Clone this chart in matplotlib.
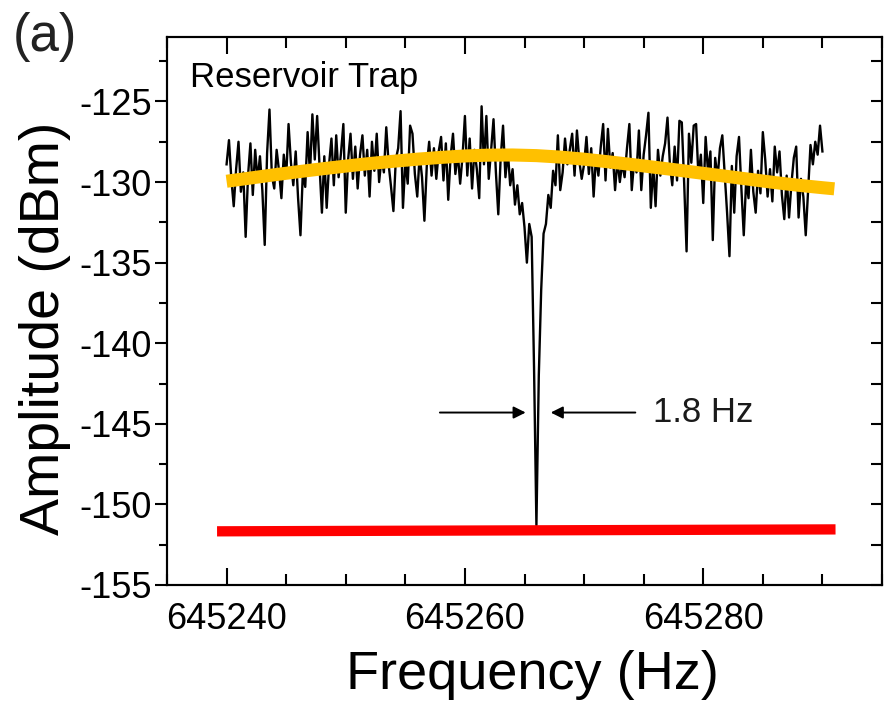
import numpy as np
import matplotlib
matplotlib.use("Agg")
import matplotlib.pyplot as plt
from matplotlib.ticker import MultipleLocator

plt.rcParams['font.family'] = ['Liberation Sans', 'DejaVu Sans']
plt.rcParams['axes.unicode_minus'] = False

# ---- data ----
f_start = 645240.0
f_step = 0.2
amplitude = [
    -128.9, -127.4, -129.8, -131.5, -129.2, -127.5, -130.6, -129.4, -133.4, -129.6,
    -127.6, -130.8, -128.0, -129.9, -128.4, -130.5, -133.9, -128.2, -125.5, -129.6,
    -130.4, -128.0, -129.3, -131.0, -128.3, -129.7, -126.4, -128.8, -130.2, -128.1,
    -131.0, -133.3, -129.4, -130.3, -126.9, -129.5, -125.8, -128.6, -125.9, -129.0,
    -131.9, -128.4, -131.6, -128.9, -127.3, -130.2, -127.1, -129.7, -128.2, -126.4,
    -131.9, -128.6, -127.0, -129.8, -127.8, -130.4, -128.3, -127.1, -129.6, -128.0,
    -130.9, -127.5, -129.3, -127.0, -130.0, -128.5, -129.4, -126.6, -128.9, -130.3,
    -131.8, -128.6, -127.9, -125.6, -131.6, -128.7, -130.1, -126.5, -127.0, -129.5,
    -130.9, -128.3, -129.7, -132.4, -129.0, -127.5, -129.6, -127.9, -129.8, -128.1,
    -127.2, -129.9, -127.6, -131.1, -128.4, -127.0, -129.5, -128.2, -130.1, -128.4,
    -125.9, -129.6, -127.3, -130.4, -128.0, -129.2, -131.0, -125.3, -128.9, -125.9,
    -129.8, -128.0, -126.1, -129.4, -132.0, -128.5, -126.5, -129.7, -128.1, -130.2,
    -129.2, -131.4, -130.2, -132.0, -131.3, -132.8, -135.0, -132.6, -133.4, -141.5,
    -151.3, -142.0, -136.7, -133.2, -132.6, -130.8, -131.6, -129.3, -130.2, -127.1,
    -130.5, -129.4, -127.3, -128.9, -128.0, -127.0, -129.6, -126.8, -128.7, -129.8,
    -128.9, -127.2, -129.5, -127.9, -130.9, -128.4, -129.6, -127.8, -126.4, -129.9,
    -126.7, -129.1, -128.2, -130.5, -128.6, -130.0, -128.8, -129.7, -127.9, -126.4,
    -130.5, -128.7, -129.4, -126.8, -130.5, -128.3, -127.1, -125.7, -131.6, -129.0,
    -131.5, -128.0, -129.6, -128.4, -127.6, -126.0, -128.9, -130.2, -127.8, -129.9,
    -126.2, -126.3, -130.1, -134.3, -127.0, -128.8, -126.5, -126.4, -129.7, -128.3,
    -131.3, -127.2, -129.4, -128.1, -133.6, -128.5, -129.8, -127.9, -127.1, -129.5,
    -131.9, -134.6, -129.0, -131.9, -128.4, -127.2, -130.4, -133.3, -129.9, -131.0,
    -128.0, -130.6, -131.9, -129.3, -130.7, -126.9, -128.6, -130.9, -129.2, -131.2,
    -127.8, -129.4, -128.1, -130.8, -132.3, -129.6, -132.2, -130.1, -128.5, -127.8,
    -132.2, -129.8, -130.9, -133.3, -130.5, -127.7, -128.9, -127.5, -128.3, -126.5,
    -128.1,
]
frequency = f_start + f_step * np.arange(len(amplitude))

fit_freq = [645240, 645242, 645244, 645246, 645248, 645250, 645252, 645254, 645256,
            645258, 645260, 645262, 645264, 645266, 645268, 645270, 645272, 645274,
            645276, 645278, 645280, 645282, 645284, 645286, 645288, 645290, 645291]
fit_amp = [-129.95, -129.75, -129.55, -129.36, -129.18, -129.01, -128.85, -128.71, -128.58,
           -128.47, -128.38, -128.33, -128.32, -128.36, -128.45, -128.58, -128.74, -128.91,
           -129.09, -129.27, -129.46, -129.65, -129.84, -130.03, -130.2, -130.35, -130.42]

noise_freq = [645239.2, 645291.1]
noise_amp = [-151.67, -151.55]

xticks = [645240, 645260, 645280]
xtick_labels = ["645240", "645260", "645280"]
yticks = [-155, -150, -145, -140, -135, -130, -125]
ytick_labels = ["-155", "-150", "-145", "-140", "-135", "-130", "-125"]

arrow_y = -144.3
arrow_left = (645257.9, 645265.1)
arrow_right = (645274.3, 645267.2)
width_label = "1.8 Hz"

# ---- figure ----
fig = plt.figure(figsize=(8.84, 7.02), dpi=100)
ax = fig.add_axes([167/884, 117/702, 715/884, 548/702])

ax.plot(frequency, amplitude, color='black', lw=1.7, zorder=2)
ax.plot(fit_freq, fit_amp, color='#FFC000', lw=9.4, solid_capstyle='butt', zorder=3)
ax.plot(noise_freq, noise_amp, color='#FF0000', lw=7.4, solid_capstyle='butt', zorder=3)

ax.set_xlim(645235, 645295)
ax.set_ylim(-155, -121)

ax.set_xticks(xticks)
ax.set_xticklabels(xtick_labels, fontsize=26)
ax.xaxis.set_minor_locator(MultipleLocator(5))
ax.set_yticks(yticks)
ax.set_yticklabels(ytick_labels, fontsize=26)
ax.yaxis.set_minor_locator(MultipleLocator(2.5))

ax.tick_params(axis='x', which='both', direction='in', top=True, bottom=True, width=1.5)
ax.tick_params(axis='x', which='major', length=12, pad=12)
ax.tick_params(axis='x', which='minor', length=8)
ax.tick_params(axis='y', which='both', direction='out', left=True, right=False, width=1.5)
ax.tick_params(axis='y', which='major', length=9, pad=2)
ax.tick_params(axis='y', which='minor', length=6)

ax2 = ax.twinx()
ax2.set_ylim(-155, -121)
ax2.yaxis.set_major_locator(MultipleLocator(2.5))
ax2.tick_params(axis='y', direction='in', length=8, width=1.5, labelright=False)

for a in (ax, ax2):
    for s in a.spines.values():
        s.set_linewidth(1.5)

ax.annotate('', xy=(arrow_left[1], arrow_y), xytext=(arrow_left[0], arrow_y),
            arrowprops=dict(arrowstyle='-|>', color='black', lw=1.4, mutation_scale=18,
                            shrinkA=0, shrinkB=0))
ax.annotate('', xy=(arrow_right[1], arrow_y), xytext=(arrow_right[0], arrow_y),
            arrowprops=dict(arrowstyle='-|>', color='black', lw=1.4, mutation_scale=18,
                            shrinkA=0, shrinkB=0))
ax.text(645275.8, arrow_y, width_label, fontsize=25, color='#1a1a1a', va='center', ha='left')

ax.text(0.032, 0.909, "Reservoir Trap", transform=ax.transAxes, fontsize=25,
        va='baseline', ha='left')

fig.text(532/884, 0.019, "Frequency (Hz)", fontsize=39, ha='center', va='baseline')
fig.text(45/884, 0.533, "Amplitude (dBm)", fontsize=40, ha='center', va='center', rotation=90)
fig.text(13/884, 0.927, "(a)", fontsize=38, color='#222222', ha='left', va='baseline')

fig.savefig("out.png", dpi=100)
